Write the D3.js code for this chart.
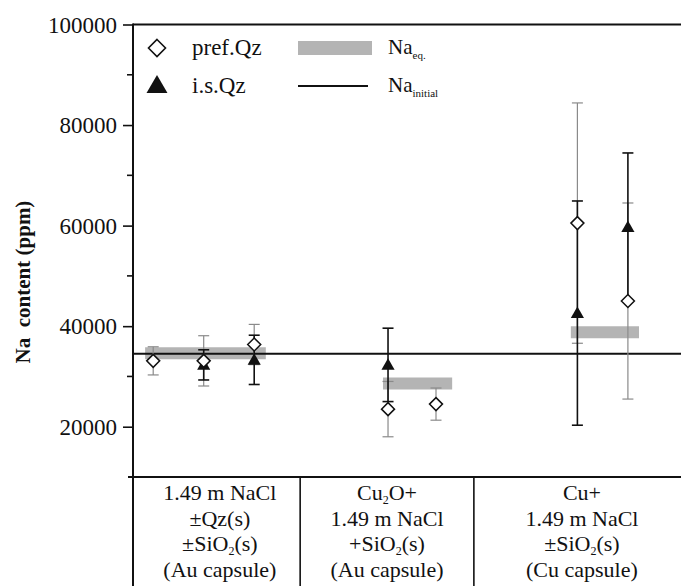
<!DOCTYPE html>
<html>
<head>
<meta charset="utf-8">
<script src="https://cdn.jsdelivr.net/npm/d3@7"></script>
<style>
  body { margin: 0; background: #fff; }
  svg { display: block; }
  text { font-family: "Liberation Serif", "Times New Roman", serif; fill: #111; }
</style>
</head>
<body>
<div id="chart"></div>
<script>
// values
var yTicks = [20000, 40000, 60000, 80000, 100000]
var yMinor = [30000, 50000, 70000, 90000]

var samplePos = [1, 2, 3, 5.65, 6.6, 9.4, 10.4]
var prefQz    = [33100, 33100, 36350, 23500, 24500, 60500, 45000]
var prefQzErr = [2800, 5000, 4000, 5500, 3200, 23900, 19500]
var isQz      = [null, 32300, 33300, 32300, null, 42600, 59700]
var isQzErr   = [null, 3000, 4900, 7300, null, 22300, 14750]

var naEq      = [34600, 28600, 38800]
var naEqFrom  = [0.84, 5.55, 9.27]
var naEqTo    = [3.23, 6.92, 10.62]
var naInitial = 34500

var groupCenter = [2.32, 5.63, 9.49]
var groupDivider = [3.91, 7.35]
var groupLabels = [
  ["1.49 m NaCl", "\u00b1Qz(s)", "\u00b1SiO_2(s)", "(Au capsule)"],
  ["Cu_2O+", "1.49 m NaCl", "+SiO_2(s)", "(Au capsule)"],
  ["Cu+", "1.49 m NaCl", "\u00b1SiO_2(s)", "(Cu capsule)"]
]

var W = 681, H = 586
var plotLeft = 133, plotTop = 24.5, plotBottom = 477

var svg = d3.select("#chart").append("svg")
  .attr("width", W).attr("height", H)

var x = d3.scaleLinear().domain([0.6, 0.6 + (W - plotLeft) / 50.5]).range([plotLeft, W])
var y = d3.scaleLinear().domain([10000, 100000]).range([plotBottom, plotTop])

// y axis with major + minor ticks
var yAxis = svg.append("g")
  .attr("transform", "translate(" + plotLeft + ",0)")
  .call(d3.axisLeft(y).tickValues(yTicks).tickSize(10).tickPadding(6).tickFormat(d3.format("d")))
yAxis.select(".domain").remove()
yAxis.selectAll(".tick line").attr("stroke", "#111").attr("stroke-width", 1.6)
yAxis.selectAll(".tick text").style("font-size", "23px").attr("dy", "0.34em")

svg.append("g")
  .attr("transform", "translate(" + plotLeft + ",0)")
  .selectAll("line").data(yMinor).enter().append("line")
  .attr("x1", -6).attr("x2", 0)
  .attr("y1", function (d) { return y(d) }).attr("y2", function (d) { return y(d) })
  .attr("stroke", "#111").attr("stroke-width", 1.6)

// frame: left axis runs down through the table, top border, table top line
svg.append("line").attr("x1", plotLeft).attr("x2", plotLeft).attr("y1", plotTop - 1).attr("y2", H)
  .attr("stroke", "#111").attr("stroke-width", 2)
svg.append("line").attr("x1", plotLeft).attr("x2", W).attr("y1", plotTop).attr("y2", plotTop)
  .attr("stroke", "#111").attr("stroke-width", 2)
svg.append("line").attr("x1", plotLeft - 5).attr("x2", W).attr("y1", plotBottom).attr("y2", plotBottom)
  .attr("stroke", "#111").attr("stroke-width", 2)

svg.selectAll(".divider").data(groupDivider).enter().append("line")
  .attr("class", "divider")
  .attr("x1", function (d) { return x(d) }).attr("x2", function (d) { return x(d) })
  .attr("y1", plotBottom).attr("y2", H)
  .attr("stroke", "#111").attr("stroke-width", 1.6)

// y label
svg.append("text")
  .attr("transform", "translate(30,282) rotate(-90)")
  .attr("text-anchor", "middle")
  .style("font-size", "21px").style("font-weight", "bold")
  .text("Na\u00a0 content (ppm)")

// Na_eq bands
svg.selectAll(".eq").data(naEq).enter().append("line")
  .attr("class", "eq")
  .attr("x1", function (d, i) { return x(naEqFrom[i]) })
  .attr("x2", function (d, i) { return x(naEqTo[i]) })
  .attr("y1", function (d) { return y(d) }).attr("y2", function (d) { return y(d) })
  .attr("stroke", "#b4b4b4").attr("stroke-width", 12)

// Na initial line
svg.append("line")
  .attr("x1", plotLeft).attr("x2", W)
  .attr("y1", y(naInitial)).attr("y2", y(naInitial))
  .attr("stroke", "#111").attr("stroke-width", 2)

function errBars(vals, errs, color, width) {
  var g = svg.append("g")
  vals.forEach(function (v, i) {
    if (v == null) return
    var cx = x(samplePos[i]), lo = y(v - errs[i]), hi = y(v + errs[i])
    g.append("line").attr("x1", cx).attr("x2", cx).attr("y1", lo).attr("y2", hi)
      .attr("stroke", color).attr("stroke-width", width)
    ;[lo, hi].forEach(function (yy) {
      g.append("line").attr("x1", cx - 5.5).attr("x2", cx + 5.5).attr("y1", yy).attr("y2", yy)
        .attr("stroke", color).attr("stroke-width", width)
    })
  })
}
errBars(prefQz, prefQzErr, "#8a8a8a", 1.2)
errBars(isQz, isQzErr, "#111", 1.6)

var tri = d3.symbol().type(d3.symbolTriangle)
var dia = function (r) { return "M0," + (-r) + "L" + r + ",0L0," + r + "L" + (-r) + ",0Z" }

svg.append("g").selectAll("path")
  .data(isQz.map(function (v, i) { return [samplePos[i], v] }).filter(function (d) { return d[1] != null }))
  .enter().append("path")
  .attr("d", tri.size(75))
  .attr("transform", function (d) { return "translate(" + x(d[0]) + "," + (y(d[1]) + 1) + ")" })
  .attr("fill", "#111")

svg.append("g").selectAll("path")
  .data(prefQz.map(function (v, i) { return [samplePos[i], v] }))
  .enter().append("path")
  .attr("d", dia(6.5))
  .attr("transform", function (d) { return "translate(" + x(d[0]) + "," + y(d[1]) + ")" })
  .attr("fill", "#fff").attr("stroke", "#111").attr("stroke-width", 1.5)

// legend
var lg = svg.append("g")
lg.append("path").attr("d", dia(8.5)).attr("transform", "translate(157,48)")
  .attr("fill", "#fff").attr("stroke", "#111").attr("stroke-width", 1.6)
lg.append("path").attr("d", tri.size(190)).attr("transform", "translate(157,87)").attr("fill", "#111")
lg.append("text").attr("x", 192).attr("y", 55).style("font-size", "23px").text("pref.Qz")
lg.append("text").attr("x", 192).attr("y", 93).style("font-size", "23px").text("i.s.Qz")
lg.append("line").attr("x1", 298).attr("x2", 372).attr("y1", 48).attr("y2", 48)
  .attr("stroke", "#b4b4b4").attr("stroke-width", 14)
lg.append("line").attr("x1", 298).attr("x2", 368).attr("y1", 86).attr("y2", 86)
  .attr("stroke", "#111").attr("stroke-width", 2)
var t1 = lg.append("text").attr("x", 388).attr("y", 54).style("font-size", "21px")
t1.append("tspan").text("Na")
t1.append("tspan").attr("dy", 5).style("font-size", "11px").text("eq.")
var t2 = lg.append("text").attr("x", 388).attr("y", 92).style("font-size", "21px")
t2.append("tspan").text("Na")
t2.append("tspan").attr("dy", 5).style("font-size", "11px").text("initial")

// table text, "_2" marks a subscript
groupLabels.forEach(function (lines, gi) {
  lines.forEach(function (line, li) {
    var t = svg.append("text")
      .attr("x", x(groupCenter[gi])).attr("y", 500 + li * 25.5)
      .attr("text-anchor", "middle").style("font-size", "22px")
    var shift = 0
    line.split(/(_\d)/).forEach(function (part) {
      if (!part) return
      if (part.charAt(0) === "_") {
        t.append("tspan").attr("dy", 4).style("font-size", "12px").text(part.slice(1))
        shift = -4
      } else {
        t.append("tspan").attr("dy", shift).text(part)
        shift = 0
      }
    })
  })
})
</script>
</body>
</html>
